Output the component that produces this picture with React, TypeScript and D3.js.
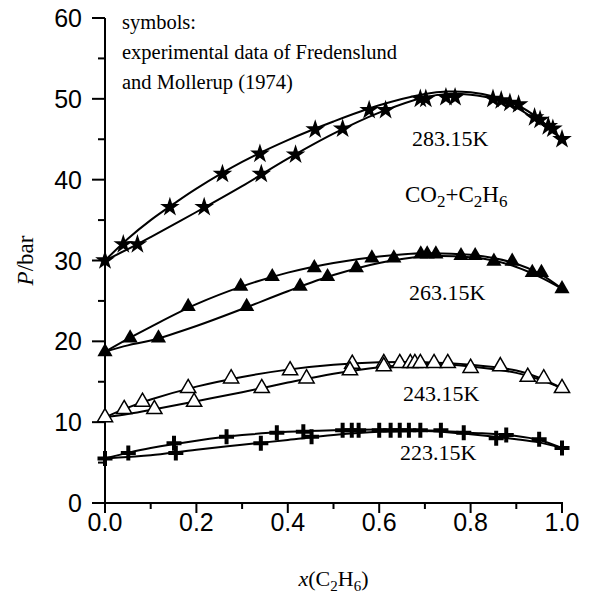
import React from "react";
import * as d3 from "d3";

// ---- data ----
const xTicks = [0, 0.2, 0.4, 0.6, 0.8, 1.0];
const xMinorTicks = [0.1, 0.3, 0.5, 0.7, 0.9];
const yTicks = [0, 10, 20, 30, 40, 50, 60];
const yMinorTicks = [5, 15, 25, 35, 45, 55];

// experimental points [x(C2H6), P/bar]
const pts283: [number, number][] = [
  [0, 30.0], [0.04, 32.0], [0.071, 32.0], [0.142, 36.6], [0.217, 36.6],
  [0.257, 40.7], [0.342, 40.7], [0.339, 43.2], [0.417, 43.1], [0.46, 46.2],
  [0.52, 46.3], [0.578, 48.6], [0.614, 48.6], [0.69, 50.0], [0.702, 50.0],
  [0.746, 50.2], [0.766, 50.2], [0.849, 50.0], [0.867, 49.8], [0.886, 49.5],
  [0.905, 49.3], [0.94, 47.7], [0.952, 47.4], [0.97, 46.6], [0.98, 46.3],
  [1.0, 45.0],
];
const pts263: [number, number][] = [
  [0, 18.7], [0.055, 20.4], [0.117, 20.4], [0.182, 24.3], [0.31, 24.3],
  [0.297, 26.8], [0.427, 26.8], [0.366, 28.0], [0.487, 28.0], [0.458, 29.1],
  [0.55, 29.1], [0.584, 30.3], [0.632, 30.3], [0.691, 30.8], [0.705, 30.8],
  [0.724, 30.8], [0.779, 30.6], [0.81, 30.6], [0.851, 29.9], [0.891, 29.9],
  [0.935, 28.5], [0.955, 28.5], [1.0, 26.5],
];
const pts243: [number, number][] = [
  [0, 10.6], [0.042, 11.6], [0.082, 12.5], [0.108, 11.6], [0.182, 14.2],
  [0.195, 12.5], [0.276, 15.4], [0.343, 14.2], [0.405, 16.4], [0.441, 15.4],
  [0.541, 17.2], [0.536, 16.4], [0.61, 17.3], [0.61, 16.9], [0.645, 17.3],
  [0.668, 17.3], [0.678, 17.3], [0.69, 17.3], [0.72, 17.3], [0.75, 17.3],
  [0.8, 16.7], [0.865, 16.9], [0.925, 15.6], [0.96, 15.4], [1.0, 14.2],
];
const pts223: [number, number][] = [
  [0, 5.5], [0.051, 6.2], [0.151, 7.4], [0.155, 6.2], [0.266, 8.2],
  [0.341, 7.4], [0.376, 8.7], [0.434, 8.8], [0.452, 8.2], [0.52, 9.0],
  [0.54, 9.0], [0.555, 9.0], [0.6, 9.0], [0.625, 9.0], [0.645, 9.0],
  [0.665, 9.0], [0.69, 9.0], [0.735, 9.0], [0.785, 8.7], [0.856, 8.0],
  [0.878, 8.4], [0.95, 7.9], [1.0, 6.8],
];

// model curves (upper = bubble, lower = dew)
const curve283Upper: [number, number][] = [
  [0, 30], [0.05, 32.7], [0.1, 35], [0.15, 37], [0.2, 38.9], [0.3, 42.2],
  [0.4, 44.9], [0.5, 47.2], [0.6, 49.2], [0.7, 50.6], [0.75, 50.9],
  [0.8, 50.8], [0.85, 50.3], [0.9, 49.3], [0.95, 47.5], [1.0, 45.0],
];
const curve283Lower: [number, number][] = [
  [0, 30], [0.05, 31.4], [0.1, 32.9], [0.2, 36], [0.3, 39.2], [0.4, 42.6],
  [0.5, 45.7], [0.6, 48.3], [0.7, 50.2], [0.75, 50.6], [0.8, 50.5],
  [0.85, 50.0], [0.9, 48.9], [0.95, 47.1], [1.0, 45.0],
];
const curve263Upper: [number, number][] = [
  [0, 18.7], [0.05, 20.3], [0.1, 21.8], [0.2, 24.6], [0.3, 26.8], [0.4, 28.5],
  [0.5, 29.7], [0.6, 30.5], [0.7, 30.9], [0.8, 30.7], [0.85, 30.3],
  [0.9, 29.6], [0.95, 28.4], [1.0, 26.5],
];
const curve263Lower: [number, number][] = [
  [0, 18.7], [0.05, 19.5], [0.1, 20.1], [0.2, 21.9], [0.3, 24.0], [0.4, 26.2],
  [0.5, 28.2], [0.6, 29.7], [0.7, 30.5], [0.8, 30.4], [0.85, 30.0],
  [0.9, 29.2], [0.95, 28.0], [1.0, 26.5],
];
const curve243Upper: [number, number][] = [
  [0, 10.6], [0.05, 11.8], [0.1, 12.8], [0.2, 14.4], [0.3, 15.6], [0.4, 16.5],
  [0.5, 17.1], [0.6, 17.4], [0.7, 17.4], [0.8, 17.1], [0.9, 16.4],
  [0.95, 15.5], [1.0, 14.2],
];
const curve243Lower: [number, number][] = [
  [0, 10.6], [0.05, 11.0], [0.1, 11.5], [0.2, 12.6], [0.3, 13.7], [0.4, 14.9],
  [0.5, 16.0], [0.6, 16.8], [0.7, 17.2], [0.8, 16.9], [0.9, 16.1],
  [0.95, 15.3], [1.0, 14.2],
];
const curve223Upper: [number, number][] = [
  [0, 5.5], [0.05, 6.2], [0.1, 6.8], [0.2, 7.7], [0.3, 8.4], [0.4, 8.8],
  [0.5, 9.0], [0.6, 9.1], [0.7, 9.0], [0.8, 8.7], [0.9, 8.3], [0.95, 7.8],
  [1.0, 6.8],
];
const curve223Lower: [number, number][] = [
  [0, 5.5], [0.05, 5.7], [0.1, 5.9], [0.2, 6.6], [0.3, 7.2], [0.4, 7.8],
  [0.5, 8.4], [0.6, 8.8], [0.7, 8.9], [0.8, 8.5], [0.9, 7.9], [0.95, 7.5],
  [1.0, 6.8],
];

const tempLabels = ["283.15K", "263.15K", "243.15K", "223.15K"];
const noteLines = [
  "symbols:",
  "experimental data of Fredenslund",
  "and Mollerup (1974)",
];

// ---- layout ----
const W = 613;
const H = 601;
const X0 = 105;
const X1 = 562;
const Y0 = 503;
const Y1 = 18;

export default function App() {
  const x = d3.scaleLinear().domain([0, 1]).range([X0, X1]);
  const y = d3.scaleLinear().domain([0, 60]).range([Y0, Y1]);
  const line = d3
    .line<[number, number]>()
    .x((d) => x(d[0]))
    .y((d) => y(d[1]))
    .curve(d3.curveCatmullRom.alpha(0.5));

  const curves = [
    curve283Upper, curve283Lower, curve263Upper, curve263Lower,
    curve243Upper, curve243Lower, curve223Upper, curve223Lower,
  ];

  const starPath = d3.symbol(d3.symbolStar, 120)()!;
  const triPath = d3.symbol(d3.symbolTriangle, 100)()!;
  const crossPath = "M-7.5,0H7.5M0,-7.5V7.5";

  const serif = "'Liberation Serif', 'Times New Roman', serif";
  const sans = "'Liberation Sans', Arial, sans-serif";

  return (
    <svg width={W} height={H} style={{ position: "absolute", left: 0, top: 0 }}>
      <rect width={W} height={H} fill="white" />
      {/* axes */}
      <line x1={X0} x2={X0} y1={Y1} y2={Y0} stroke="black" strokeWidth={2} />
      <line x1={X0 - 13} x2={X1 + 1} y1={Y0} y2={Y0} stroke="black" strokeWidth={2} />
      {yTicks.map((t) => (
        <g key={"yt" + t}>
          <line x1={X0 - 13} x2={X0} y1={y(t)} y2={y(t)} stroke="black" strokeWidth={2} />
          <text x={X0 - 23} y={y(t) + 9} textAnchor="end" fontFamily={sans} fontSize={25}>
            {t}
          </text>
        </g>
      ))}
      {yMinorTicks.map((t) => (
        <line key={"ym" + t} x1={X0 - 7} x2={X0} y1={y(t)} y2={y(t)} stroke="black" strokeWidth={2} />
      ))}
      {xTicks.map((t) => (
        <g key={"xt" + t}>
          <line x1={x(t)} x2={x(t)} y1={Y0} y2={Y0 + 10} stroke="black" strokeWidth={2} />
          <text x={x(t)} y={Y0 + 28} textAnchor="middle" fontFamily={sans} fontSize={25}>
            {t.toFixed(1)}
          </text>
        </g>
      ))}
      {xMinorTicks.map((t) => (
        <line key={"xm" + t} x1={x(t)} x2={x(t)} y1={Y0} y2={Y0 + 6} stroke="black" strokeWidth={2} />
      ))}
      {/* axis titles */}
      <text
        transform={`translate(33,${y(30)}) rotate(-90)`}
        textAnchor="middle"
        fontFamily={serif}
        fontSize={23}
      >
        <tspan fontStyle="italic">P</tspan>/bar
      </text>
      <text x={(X0 + X1) / 2} y={586} textAnchor="middle" fontFamily={serif} fontSize={22}>
        <tspan fontStyle="italic">x</tspan>(C<tspan fontSize={15} dy={5}>2</tspan>
        <tspan dy={-5}>H</tspan>
        <tspan fontSize={15} dy={5}>6</tspan>
        <tspan dy={-5}>)</tspan>
      </text>

      {/* curves */}
      {curves.map((c, i) => (
        <path key={"c" + i} d={line(c)!} fill="none" stroke="black" strokeWidth={2} />
      ))}

      {/* symbols */}
      {pts283.map((p, i) => (
        <path key={"s" + i} d={starPath} transform={`translate(${x(p[0])},${y(p[1])})`} fill="black" />
      ))}
      {pts263.map((p, i) => (
        <path key={"t" + i} d={triPath} transform={`translate(${x(p[0])},${y(p[1])})`} fill="black" />
      ))}
      {pts243.map((p, i) => (
        <path
          key={"o" + i}
          d={triPath}
          transform={`translate(${x(p[0])},${y(p[1])})`}
          fill="white"
          stroke="black"
          strokeWidth={1.5}
        />
      ))}
      {pts223.map((p, i) => (
        <path
          key={"p" + i}
          d={crossPath}
          transform={`translate(${x(p[0])},${y(p[1])})`}
          fill="none"
          stroke="black"
          strokeWidth={4}
        />
      ))}

      {/* annotations */}
      {noteLines.map((s, i) => (
        <text key={"n" + i} x={122} y={29 + i * 30} fontFamily={serif} fontSize={20.5}>
          {s}
        </text>
      ))}
      <text x={412} y={146} fontFamily={serif} fontSize={22}>{tempLabels[0]}</text>
      <text x={405} y={202} fontFamily={serif} fontSize={23}>
        CO<tspan fontSize={17} dy={5}>2</tspan>
        <tspan dy={-5}>+C</tspan>
        <tspan fontSize={17} dy={5}>2</tspan>
        <tspan dy={-5}>H</tspan>
        <tspan fontSize={17} dy={5}>6</tspan>
      </text>
      <text x={409} y={300} fontFamily={serif} fontSize={22}>{tempLabels[1]}</text>
      <text x={403} y={401} fontFamily={serif} fontSize={22}>{tempLabels[2]}</text>
      <text x={400} y={460} fontFamily={serif} fontSize={22}>{tempLabels[3]}</text>
    </svg>
  );
}
